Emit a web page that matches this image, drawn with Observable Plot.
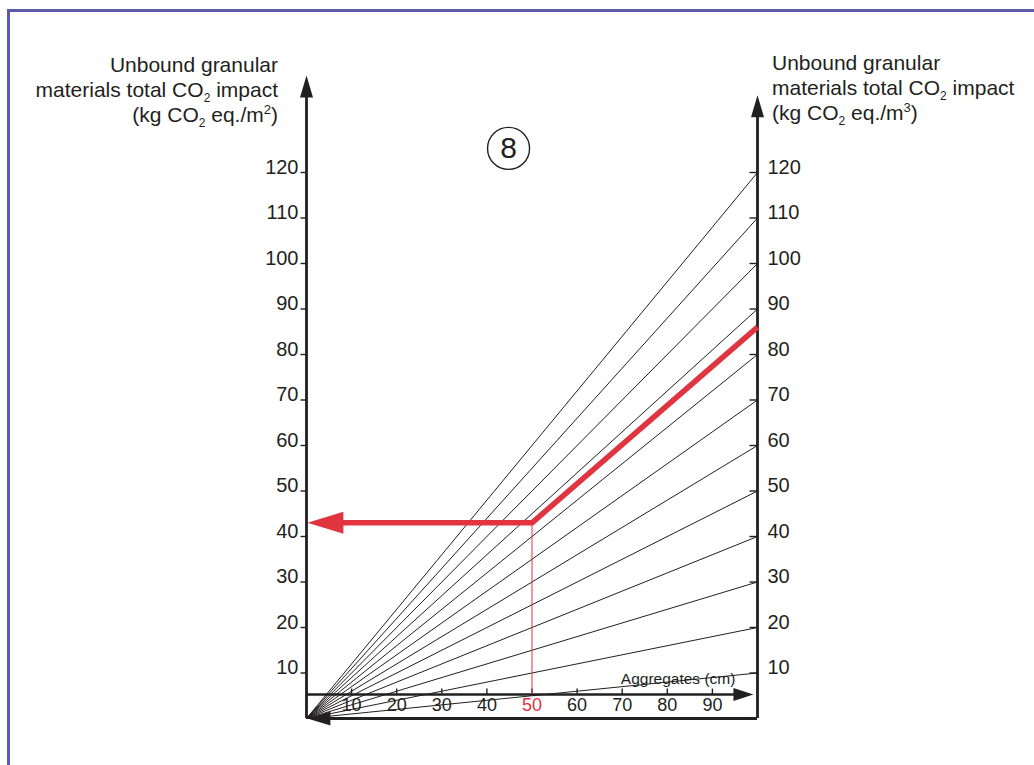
<!DOCTYPE html>
<html><head><meta charset="utf-8">
<script src="https://cdn.jsdelivr.net/npm/d3@7"></script>
<script src="https://cdn.jsdelivr.net/npm/@observablehq/plot@0.6"></script>
<style>
html,body{margin:0;padding:0;background:#fff;overflow:hidden;}
#wrap{position:relative;width:1034px;height:765px;font-family:"Liberation Sans",Arial,Helvetica,sans-serif;color:#231f20;}
#border{position:absolute;left:7px;top:9px;width:1100px;height:900px;border:3px solid #5b5ba9;box-sizing:border-box;pointer-events:none;}
.ttl{position:absolute;font-size:21px;line-height:25px;white-space:nowrap;}
.ttl sub{font-size:12px;line-height:0;vertical-align:-5px;}
.ttl sup{font-size:13px;line-height:0;vertical-align:8px;}
#tl{right:756px;top:52px;text-align:right;}
#tr{left:772px;top:50px;text-align:left;}
#chart{position:absolute;left:0;top:0;}
</style>
</head><body><div id="wrap"><div id="chart"></div><div id="border"></div>
<div class="ttl" id="tl">Unbound granular<br>materials total CO<sub>2</sub> impact<br>(kg CO<sub>2</sub> eq./m<sup>2</sup>)</div>
<div class="ttl" id="tr">Unbound granular<br>materials total CO<sub>2</sub> impact<br>(kg CO<sub>2</sub> eq./m<sup>3</sup>)</div>
</div>
<script>
// ---- data ----
const fanTotals = [10, 20, 30, 40, 50, 60, 70, 80, 90, 100, 110, 120]; // kg CO2 eq./m3 (value reached at 100 cm)
const leftTicks = [10, 20, 30, 40, 50, 60, 70, 80, 90, 100, 110, 120];  // kg CO2 eq./m2
const rightTicks = [10, 20, 30, 40, 50, 60, 70, 80, 90, 100, 110, 120]; // kg CO2 eq./m3
const depthTicks = [10, 20, 30, 40, 50, 60, 70, 80, 90];                // Aggregates (cm)
const depthMax = 100;
const highlightDepth = 50;    // cm
const highlightVolume = 86;   // kg CO2 eq./m3
const highlightArea = 43;     // kg CO2 eq./m2
const stepNumber = "8";
const xAxisTitle = "Aggregates (cm)";

// ---- styles / layout ----
const ink = "#231f20";
const red = "#e03441";
const xAxisLevel = 5.27;
const leftAxisTop = 141.3, rightAxisTop = 137;

const shape = pts => ({draw(ctx){ctx.moveTo(pts[0][0], pts[0][1]); for (let i = 1; i < pts.length; i++) ctx.lineTo(pts[i][0], pts[i][1]); ctx.closePath();}});
const headUp = shape([[0,0],[-6.5,22],[6.5,22]]);
const headLeft = shape([[0,0],[23,-7],[23,7]]);
const headRight = shape([[0,0],[-20,-6.5],[-20,6.5]]);
const headRed = shape([[0,0],[36,-11],[36,11]]);
const tickIn = {draw(ctx){ctx.moveTo(-8,0); ctx.lineTo(0,0);}};
const tickOut = {draw(ctx){ctx.moveTo(-6,0); ctx.lineTo(0,0);}};
const tickUp = {draw(ctx){ctx.moveTo(0,0); ctx.lineTo(0,-6);}};

const fanData = fanTotals.flatMap(v => [{cm: 0, co2: 0, v}, {cm: depthMax, co2: v, v}]);
const redPath = [
  {cm: depthMax, co2: highlightVolume},
  {cm: highlightDepth, co2: highlightArea},
  {cm: 4, co2: highlightArea}
];

const chart = Plot.plot({
  width: 1034,
  height: 765,
  marginLeft: 306,
  marginRight: 277,
  marginTop: 172,
  marginBottom: 47,
  x: {domain: [0, depthMax], axis: null},
  y: {domain: [0, 120], axis: null},
  style: {fontFamily: "'Liberation Sans', Arial, Helvetica, sans-serif", color: ink, background: "transparent"},
  marks: [
    // fan lines
    Plot.line(fanData, {x: "cm", y: "co2", z: "v", stroke: ink, strokeWidth: 1}),
    // left axis
    Plot.ruleX([0], {y1: 0, y2: leftAxisTop - 3, stroke: ink, strokeWidth: 2.8}),
    Plot.dot([0], {x: 0, y: leftAxisTop, symbol: headUp, r: 5, fill: ink, stroke: "none"}),
    Plot.dot(leftTicks, {x: 0, y: d => d, symbol: tickOut, r: 5, fill: "none", stroke: ink, strokeWidth: 1.4}),
    Plot.text(leftTicks, {x: 0, y: d => d, text: d => String(d), dx: -8, dy: -5, textAnchor: "end", fontSize: 20, fill: ink}),
    // right axis
    Plot.ruleX([depthMax], {y1: 0, y2: rightAxisTop - 3, stroke: ink, strokeWidth: 2.8}),
    Plot.dot([0], {x: depthMax, y: rightAxisTop, symbol: headUp, r: 5, fill: ink, stroke: "none"}),
    Plot.dot(rightTicks, {x: depthMax, y: d => d, symbol: tickIn, r: 5, fill: "none", stroke: ink, strokeWidth: 1.4}),
    Plot.text(rightTicks, {x: depthMax, y: d => d, text: d => String(d), dx: 10, dy: -5, textAnchor: "start", fontSize: 20, fill: ink}),
    // x axis (aggregates)
    Plot.ruleY([xAxisLevel], {x1: 0, x2: 97, stroke: ink, strokeWidth: 2.6}),
    Plot.dot([0], {x: 99.1, y: xAxisLevel, symbol: headRight, r: 5, fill: ink, stroke: "none"}),
    Plot.dot(depthTicks, {x: d => d, y: xAxisLevel, symbol: tickUp, r: 5, fill: "none", stroke: ink, strokeWidth: 1.4}),
    Plot.text(depthTicks, {x: d => d, y: xAxisLevel, dy: 11, text: d => String(d), fontSize: 18, fill: d => d === highlightDepth ? red : ink}),
    Plot.text([xAxisTitle], {x: 95.1, y: 7.6, text: d => d, textAnchor: "end", lineAnchor: "bottom", fontSize: 15.5, fill: ink}),
    // bottom return arrow
    Plot.ruleY([0], {x1: 3, x2: depthMax, stroke: ink, strokeWidth: 3}),
    Plot.dot([0], {x: 0.2, y: 0, symbol: headLeft, r: 5, fill: ink, stroke: "none"}),
    // red reading path
    Plot.ruleX([highlightDepth], {y1: xAxisLevel, y2: highlightArea, stroke: red, strokeWidth: 1}),
    Plot.line(redPath, {x: "cm", y: "co2", stroke: red, strokeWidth: 5.5, strokeLinejoin: "miter", strokeLinecap: "butt"}),
    Plot.dot([0], {x: 0.2, y: highlightArea, symbol: headRed, r: 5, fill: red, stroke: "none"}),
    // step marker
    Plot.dot([stepNumber], {x: 44.8, y: 125.3, r: 21, fill: "white", stroke: ink, strokeWidth: 1.4}),
    Plot.text([stepNumber], {x: 44.8, y: 125.3, text: d => d, fontSize: 30, fill: ink})
  ]
});
document.getElementById("chart").appendChild(chart);
</script>
</body></html>
